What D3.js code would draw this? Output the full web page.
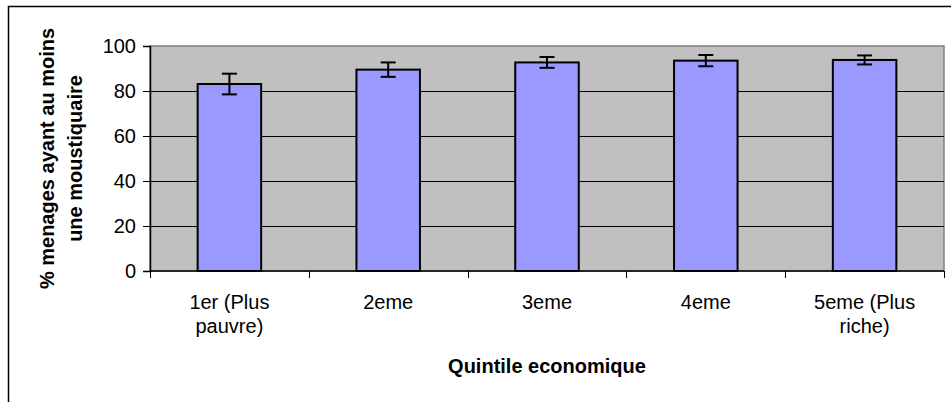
<!DOCTYPE html>
<html>
<head>
<meta charset="utf-8">
<script src="https://cdn.jsdelivr.net/npm/d3@7"></script>
<style>
  html, body { margin: 0; padding: 0; background: #fff; }
  svg { display: block; font-family: "Liberation Sans", Arial, sans-serif; }
</style>
</head>
<body>
<svg id="chart" width="951" height="402"></svg>
<script>
const categories = [["1er (Plus", "pauvre)"], ["2eme"], ["3eme"], ["4eme"], ["5eme (Plus", "riche)"]];
const values = [83.1, 89.5, 92.7, 93.5, 93.8];
const errors = [4.6, 3.2, 2.4, 2.5, 2.0];
const yTicks = [0, 20, 40, 60, 80, 100];
const yTitle = ["% menages ayant au moins", "une moustiquaire"];
const xTitle = "Quintile economique";

const svg = d3.select("#chart");
const W = 951, H = 402;
const plot = { left: 150, right: 944, top: 46, bottom: 271 };

// outer chart border (top and left visible)
svg.append("rect")
  .attr("x", 8.5).attr("y", 6.5)
  .attr("width", 1000).attr("height", 1000)
  .attr("fill", "none").attr("stroke", "#000").attr("stroke-width", 1.5);

const keys = categories.map((c, i) => "c" + i);
const x = d3.scaleBand().domain(keys).range([plot.left, plot.right]).padding(0);
const y = d3.scaleLinear().domain([0, 100]).range([plot.bottom, plot.top]);

// plot background
svg.append("rect")
  .attr("x", plot.left).attr("y", plot.top)
  .attr("width", plot.right - plot.left).attr("height", plot.bottom - plot.top)
  .attr("fill", "#C0C0C0").attr("stroke", "#808080").attr("stroke-width", 1.5);

// gridlines
svg.append("g").selectAll("line")
  .data(yTicks.filter(t => t > 0 && t < 100))
  .join("line")
  .attr("x1", plot.left).attr("x2", plot.right)
  .attr("y1", d => Math.round(y(d)) + 0.5).attr("y2", d => Math.round(y(d)) + 0.5)
  .attr("stroke", "#000").attr("stroke-width", 1);

// y axis
const yAxis = d3.axisLeft(y).tickValues(yTicks).tickSize(7).tickPadding(7).tickFormat(d3.format("d"));
const gy = svg.append("g").attr("transform", `translate(${plot.left},0)`).call(yAxis);
gy.select(".domain").attr("stroke", "#000").attr("stroke-width", 1.5);
gy.selectAll(".tick line").attr("stroke", "#000").attr("stroke-width", 1);
gy.selectAll(".tick text").attr("font-size", 20).attr("fill", "#000")
  .attr("font-family", "'Liberation Sans', Arial, sans-serif");

// x axis
const xTickScale = d3.scalePoint().domain(d3.range(keys.length + 1)).range([plot.left, plot.right]);
const gx = svg.append("g").attr("transform", `translate(0,${plot.bottom})`);
gx.append("line").attr("x1", plot.left).attr("x2", plot.right).attr("y1", 0).attr("y2", 0)
  .attr("stroke", "#000").attr("stroke-width", 1.5);
gx.selectAll(".xt").data(d3.range(keys.length + 1)).join("line").attr("class", "xt")
  .attr("x1", d => Math.round(xTickScale(d)) + 0.5).attr("x2", d => Math.round(xTickScale(d)) + 0.5)
  .attr("y1", 0).attr("y2", 7).attr("stroke", "#000").attr("stroke-width", 1);

const lbl = gx.selectAll(".xl").data(categories).join("text").attr("class", "xl")
  .attr("text-anchor", "middle").attr("font-size", 20).attr("fill", "#000");
lbl.each(function(lines, i) {
  const t = d3.select(this);
  lines.forEach((ln, j) => {
    t.append("tspan").attr("x", x(keys[i]) + x.bandwidth() / 2).attr("y", 38 + j * 24).text(ln);
  });
});

// bars
const bw = x.bandwidth() * 0.4;
svg.append("g").selectAll("rect").data(values).join("rect")
  .attr("x", (d, i) => x(keys[i]) + (x.bandwidth() - bw) / 2)
  .attr("y", d => y(d))
  .attr("width", bw)
  .attr("height", d => y(0) - y(d))
  .attr("fill", "#9999FF").attr("stroke", "#000").attr("stroke-width", 2);

// error bars
const eg = svg.append("g").attr("stroke", "#000").attr("stroke-width", 2);
values.forEach((v, i) => {
  const cx = x(keys[i]) + x.bandwidth() / 2;
  const hi = y(v + errors[i]), lo = y(v - errors[i]);
  eg.append("line").attr("x1", cx).attr("x2", cx).attr("y1", hi).attr("y2", lo);
  eg.append("line").attr("x1", cx - 7.5).attr("x2", cx + 7.5).attr("y1", hi).attr("y2", hi);
  eg.append("line").attr("x1", cx - 7.5).attr("x2", cx + 7.5).attr("y1", lo).attr("y2", lo);
});

// y title
const yt = svg.append("text")
  .attr("transform", `translate(0,${(plot.top + plot.bottom) / 2}) rotate(-90)`)
  .attr("text-anchor", "middle").attr("font-size", 20).attr("font-weight", "bold").attr("fill", "#000");
yTitle.forEach((ln, j) => {
  yt.append("tspan").attr("x", 0).attr("y", 54 + j * 28).text(ln);
});

// x title
svg.append("text")
  .attr("x", (plot.left + plot.right) / 2).attr("y", 373)
  .attr("text-anchor", "middle").attr("font-size", 20).attr("font-weight", "bold").attr("fill", "#000")
  .text(xTitle);
</script>
</body>
</html>
